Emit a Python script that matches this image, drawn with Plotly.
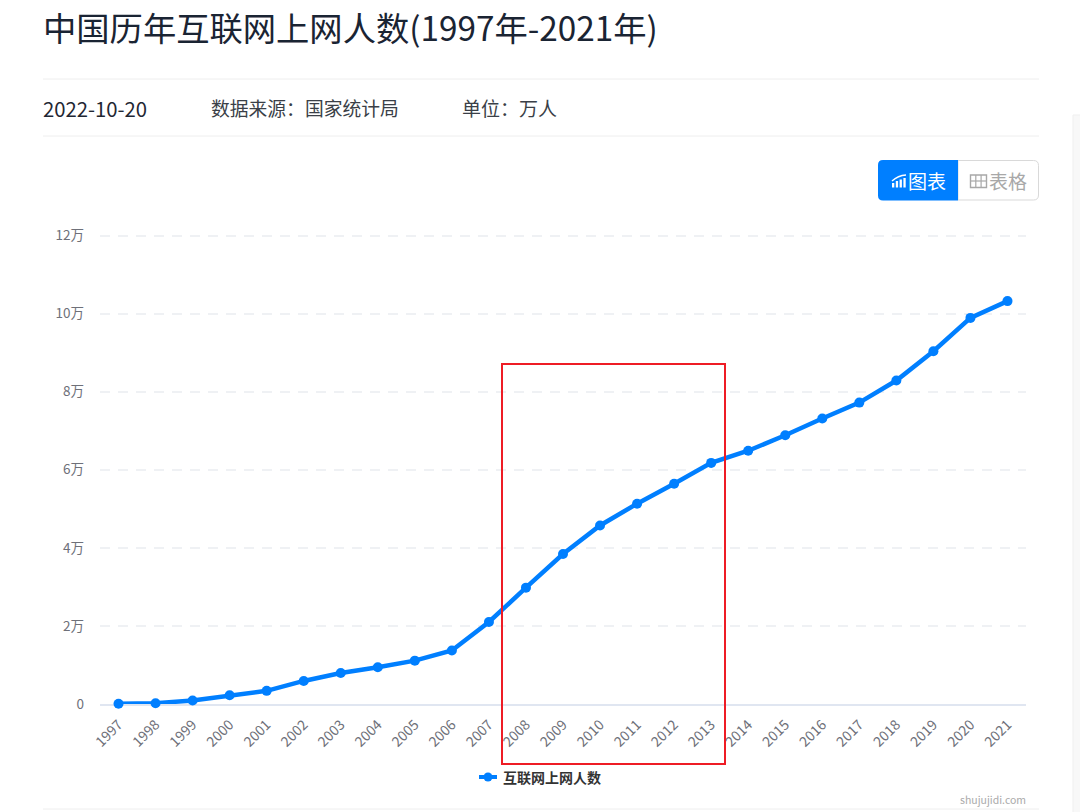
import plotly.graph_objects as go

WIDTH, HEIGHT = 1080, 812
CJK = "Noto Sans CJK SC"

years = [str(y) for y in range(1997, 2022)]
# Internet users, in units of 10,000 people
users = [62, 210, 890, 2250, 3370, 5910, 7950, 9400, 11100, 13700, 21000, 29800,
         38400, 45730, 51310, 56400, 61758, 64875, 68826, 73125, 77198, 82851,
         90359, 98899, 103195]
users_wan = [v / 10000 for v in users]
y_ticks = [0, 2, 4, 6, 8, 10, 12]
y_labels = ["0", "2万", "4万", "6万", "8万", "10万", "12万"]
series_name = "互联网上网人数"
title = "中国历年互联网上网人数(1997年-2021年)"

BLUE = "#007fff"


def px(x):
    return x / WIDTH


def py(y):
    return 1 - y / HEIGHT


def label(x, y, text, size, color, anchor="left", family=CJK):
    return dict(xref="paper", yref="paper", x=px(x), y=py(y), text=text,
                showarrow=False, xanchor=anchor, yanchor="middle",
                font=dict(family=family, size=size, color=color))


def rule(x0, x1, y, color="#eeeeee", width=1):
    return dict(type="line", xref="paper", yref="paper", x0=px(x0), x1=px(x1),
                y0=py(y), y1=py(y), line=dict(color=color, width=width), layer="below")


def box(x0, y0, x1, y1, fill=None, line=None, width=1, layer="below"):
    return dict(type="rect", xref="paper", yref="paper", x0=px(x0), x1=px(x1),
                y0=py(y0), y1=py(y1), fillcolor=fill or "rgba(0,0,0,0)",
                line=dict(color=line or "rgba(0,0,0,0)", width=width if line else 0),
                layer=layer)


def path(d, fill=None, line=None, width=1):
    return dict(type="path", xref="paper", yref="paper", path=d,
                fillcolor=fill or "rgba(0,0,0,0)",
                line=dict(color=line or "rgba(0,0,0,0)", width=width if line else 0),
                layer="above")


def pill(x0, y0, x1, y1, r, left_round, right_round):
    # Rectangle with optionally rounded left and right corners
    pts = [f"M{px(x0 + (r if left_round else 0))},{py(y0)}",
           f"L{px(x1 - (r if right_round else 0))},{py(y0)}"]
    if right_round:
        pts += [f"Q{px(x1)},{py(y0)} {px(x1)},{py(y0 + r)}",
                f"L{px(x1)},{py(y1 - r)}",
                f"Q{px(x1)},{py(y1)} {px(x1 - r)},{py(y1)}"]
    else:
        pts += [f"L{px(x1)},{py(y1)}"]
    pts += [f"L{px(x0 + (r if left_round else 0))},{py(y1)}"]
    if left_round:
        pts += [f"Q{px(x0)},{py(y1)} {px(x0)},{py(y1 - r)}",
                f"L{px(x0)},{py(y0 + r)}",
                f"Q{px(x0)},{py(y0)} {px(x0 + r)},{py(y0)}"]
    else:
        pts += [f"L{px(x0)},{py(y0)}"]
    return " ".join(pts) + " Z"


fig = go.Figure(go.Scatter(
    x=years, y=users_wan, mode="lines+markers", name=series_name,
    line=dict(color=BLUE, width=4.5),
    marker=dict(color=BLUE, size=10),
    cliponaxis=False,
    showlegend=False,
))

shapes = [
    # Page rules and the scrollbar gutter
    rule(43, 1039, 79),
    rule(43, 1039, 136),
    rule(43, 1039, 809),
    box(1073, 115, 1081, 813, fill="#f8f8f8", line="#efefef"),
    # Chart / table toggle
    path(pill(958, 160.5, 1038.5, 200, 5, False, True), fill="#ffffff", line="#d9d9d9"),
    path(pill(878, 160, 958, 200.5, 5, True, False), fill=BLUE),
    # Selection frame around 2008-2013
    box(502, 364, 725, 764, line="#ee1c25", width=2, layer="above"),
    # Legend key
    dict(type="line", xref="paper", yref="paper", x0=px(479), x1=px(497),
         y0=py(777), y1=py(777), line=dict(color=BLUE, width=4), layer="above"),
    dict(type="circle", xref="paper", yref="paper", x0=px(483.5), x1=px(492.5),
         y0=py(772.5), y1=py(781.5), fillcolor=BLUE, line=dict(width=0), layer="above"),
]

# Chart icon on the active toggle
for x, top in [(892, 183), (895.8, 181), (899.6, 179.5), (903.4, 178)]:
    shapes.append(box(x, top, x + 2.3, 187.5, fill="#ffffff", layer="above"))
shapes.append(path(f"M{px(892)},{py(181)} Q{px(898)},{py(175.5)} {px(906)},{py(175)}",
                   line="#ffffff", width=1.4))

# Grid icon on the inactive toggle
shapes.append(box(970.5, 175, 986.5, 187.5, line="#a8a8a8", width=1.4, layer="above"))
for x in (975.8, 981.1):
    shapes.append(dict(type="line", xref="paper", yref="paper", x0=px(x), x1=px(x),
                       y0=py(175), y1=py(187.5), line=dict(color="#a8a8a8", width=1.2),
                       layer="above"))
shapes.append(dict(type="line", xref="paper", yref="paper", x0=px(970.5), x1=px(986.5),
                   y0=py(181), y1=py(181), line=dict(color="#a8a8a8", width=1.2),
                   layer="above"))

annotations = [
    label(40.5, 26.5, title, 33.3, "#1a2433"),
    label(41, 108, "2022-10-20", 20.3, "#1f2733"),
    label(209, 108, "数据来源：国家统计局", 18.8, "#3a3f47"),
    label(460, 108, "单位：万人", 19, "#3a3f47"),
    label(906, 180.5, "图表", 19, "#ffffff"),
    label(986.5, 180.5, "表格", 19, "#a8a8a8"),
    label(501, 777, f"<b>{series_name}</b>", 14, "#333333"),
    label(1028, 799, "shujujidi.com", 10.5, "#aaaaaa", anchor="right"),
]

fig.update_layout(
    width=WIDTH, height=HEIGHT, autosize=False,
    margin=dict(l=0, r=0, t=0, b=0),
    paper_bgcolor="#ffffff", plot_bgcolor="#ffffff",
    font=dict(family=CJK, size=12, color="#6e7079"),
    hovermode=False,
    shapes=shapes, annotations=annotations,
    xaxis=dict(
        domain=[px(100), px(1026)], automargin=False,
        type="category", range=[-0.5, 24.5],
        tickangle=-45, ticks="", tickfont=dict(size=14, color="#6e7079"),
        showgrid=False, zeroline=False, layer="below traces",
        showline=True, linecolor="#e0e6f1", linewidth=2,
        ticklabelstandoff=5,
    ),
    yaxis=dict(
        # The range runs slightly past 12 so the top gridline is still drawn
        domain=[py(704), py(227.7)], automargin=False,
        range=[0, 12.2], tickvals=y_ticks, ticktext=y_labels,
        tickfont=dict(size=13.5, color="#6e7079"), ticks="",
        showgrid=True, gridcolor="#eff1f4", griddash="10px,8px", gridwidth=2,
        zeroline=False, showline=False, layer="below traces",
        ticklabelstandoff=15,
    ),
)

fig.write_html("out.html")
